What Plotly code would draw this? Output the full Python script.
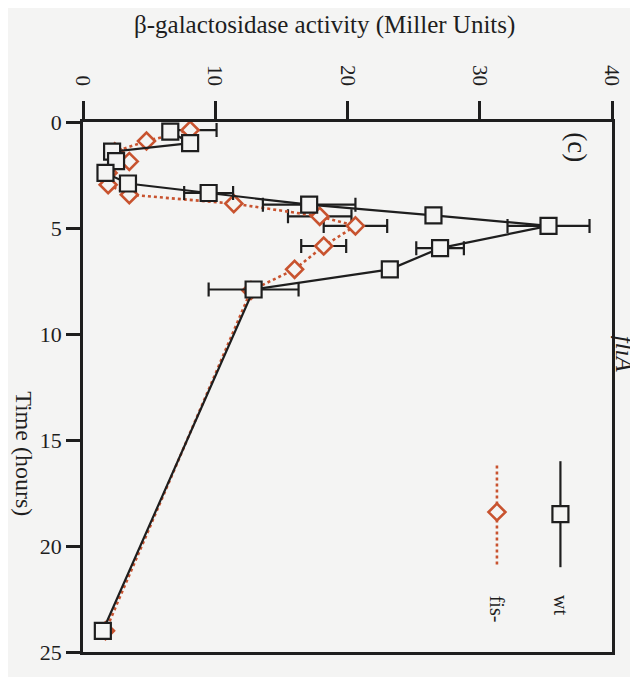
import plotly.graph_objects as go

# ---- data ----
wt_time = [0.45, 1.0, 1.4, 1.85, 2.4, 2.9, 3.35, 3.9, 4.4, 4.9, 5.95, 6.95, 7.9, 24.0]
wt_activity = [6.6, 8.1, 2.2, 2.5, 1.7, 3.4, 9.5, 17.1, 26.5, 35.2, 27.0, 23.2, 12.9, 1.5]
wt_error = [None, None, None, None, None, None, 1.85, 3.5, None, 3.1, 1.8, None, 3.4, None]

fis_time = [0.38, 0.9, 1.4, 1.86, 2.4, 2.96, 3.43, 3.85, 4.45, 4.9, 5.85, 6.95, 7.95, 24.0]
fis_activity = [8.1, 4.8, 2.4, 3.5, 1.9, 1.9, 3.5, 11.4, 17.9, 20.6, 18.2, 16.0, 12.7, 1.7]
fis_error = [2.0, None, None, None, None, None, None, None, 2.4, 2.4, 1.7, None, None, None]

x_ticks = [0, 10, 20, 30, 40]
y_ticks = [0, 5, 10, 15, 20, 25]

BG = "#f4f4f3"
ORANGE = "#c8532f"
INK = "#1e1e1e"
FONT = "Liberation Serif"

fig = go.Figure()

fig.add_trace(go.Scatter(
    x=fis_activity, y=fis_time, mode="lines+markers", name="fis-",
    line=dict(color=ORANGE, width=2.6, dash="dot"),
    marker=dict(symbol="diamond", size=13, color=BG, line=dict(color=ORANGE, width=2.6)),
    error_x=dict(type="data", array=fis_error, symmetric=True, color=INK,
                 thickness=2.2, width=7),
    showlegend=False,
))
fig.add_trace(go.Scatter(
    x=wt_activity, y=wt_time, mode="lines+markers", name="wt",
    line=dict(color=INK, width=2.2),
    marker=dict(symbol="square", size=16, color=BG, line=dict(color=INK, width=2.2)),
    error_x=dict(type="data", array=wt_error, symmetric=True, color=INK,
                 thickness=2.2, width=7),
    showlegend=False,
))

# ---- hand-drawn rotated legend (layout positions in data units) ----
LEG_WT_X, LEG_FIS_X = 36.1, 31.3
LEG_T0, LEG_T1, LEG_TM = 16.0, 21.0, 18.5
fig.add_trace(go.Scatter(
    x=[LEG_FIS_X, LEG_FIS_X], y=[LEG_T0 + 0.2, LEG_T1],
    mode="lines", line=dict(color=ORANGE, width=2.6, dash="dot"),
    hoverinfo="skip", showlegend=False))
fig.add_trace(go.Scatter(
    x=[LEG_FIS_X], y=[LEG_TM - 0.1], mode="markers",
    marker=dict(symbol="diamond", size=13, color=BG, line=dict(color=ORANGE, width=2.6)),
    hoverinfo="skip", showlegend=False))
fig.add_trace(go.Scatter(
    x=[LEG_WT_X, LEG_WT_X], y=[LEG_T0, LEG_T1],
    mode="lines", line=dict(color=INK, width=2.2),
    hoverinfo="skip", showlegend=False))
fig.add_trace(go.Scatter(
    x=[LEG_WT_X], y=[LEG_TM], mode="markers",
    marker=dict(symbol="square", size=16, color=BG, line=dict(color=INK, width=2.2)),
    hoverinfo="skip", showlegend=False))

# page has an 8px body margin; figure sized to fit the 638x677 window
OFF = 8
W, H = 638 - OFF, 677 - OFF
L, R, T, B = 83 - OFF, 26, 122 - OFF, 22
pw, ph = W - L - R, H - T - B


def px(xp, yp):
    """page pixel -> paper coordinates"""
    return (xp - OFF - L) / pw, (H - B - (yp - OFF)) / ph


annotations = [
    dict(x=LEG_WT_X, y=22.8, xref="x", yref="y", text="wt", textangle=90,
         font=dict(family=FONT, size=20, color=INK)),
    dict(x=LEG_FIS_X, y=23.0, xref="x", yref="y", text="fis-", textangle=90,
         font=dict(family=FONT, size=20, color=INK)),
    dict(x=37.3, y=1.2, xref="x", yref="y", text="(c)", textangle=90,
         font=dict(family=FONT, size=27, color=INK)),
]
for text, xp, yp, size, ang in [
    ("<i>fliA</i>", 624, 355, 25, 90),
    ("Time (hours)", 24, 455, 24, 90),
    ("β-galactosidase activity (Miller Units)", 324, 24, 25, 0),
]:
    ax, ay = px(xp, yp)
    annotations.append(dict(x=ax, y=ay, xref="paper", yref="paper", text=text, textangle=ang,
                            font=dict(family=FONT, size=size, color=INK)))
for a in annotations:
    a.update(showarrow=False, xanchor="center", yanchor="middle", borderpad=0)

fig.update_layout(
    width=W, height=H,
    margin=dict(l=L, r=R, t=T, b=B, pad=0),
    paper_bgcolor=BG, plot_bgcolor=BG,
    font=dict(family=FONT, size=20, color=INK),
    annotations=annotations,
)
fig.update_xaxes(
    range=[0, 40], side="top", tickvals=x_ticks, ticktext=[str(v) for v in x_ticks],
    tickangle=90, ticks="outside", ticklen=18, tickwidth=2.5, tickcolor=INK,
    ticklabelstandoff=8,
    showline=True, linewidth=2.5, linecolor=INK, mirror=True,
    showgrid=False, zeroline=False, tickfont=dict(family=FONT, size=21, color=INK),
)
fig.update_yaxes(
    range=[25, 0], tickvals=y_ticks, ticktext=[str(v) for v in y_ticks],
    ticks="outside", ticklen=14, tickwidth=2.5, tickcolor=INK,
    showline=True, linewidth=2.5, linecolor=INK, mirror=True,
    showgrid=False, zeroline=False, tickfont=dict(family=FONT, size=22, color=INK),
)

fig.write_html("out.html")
